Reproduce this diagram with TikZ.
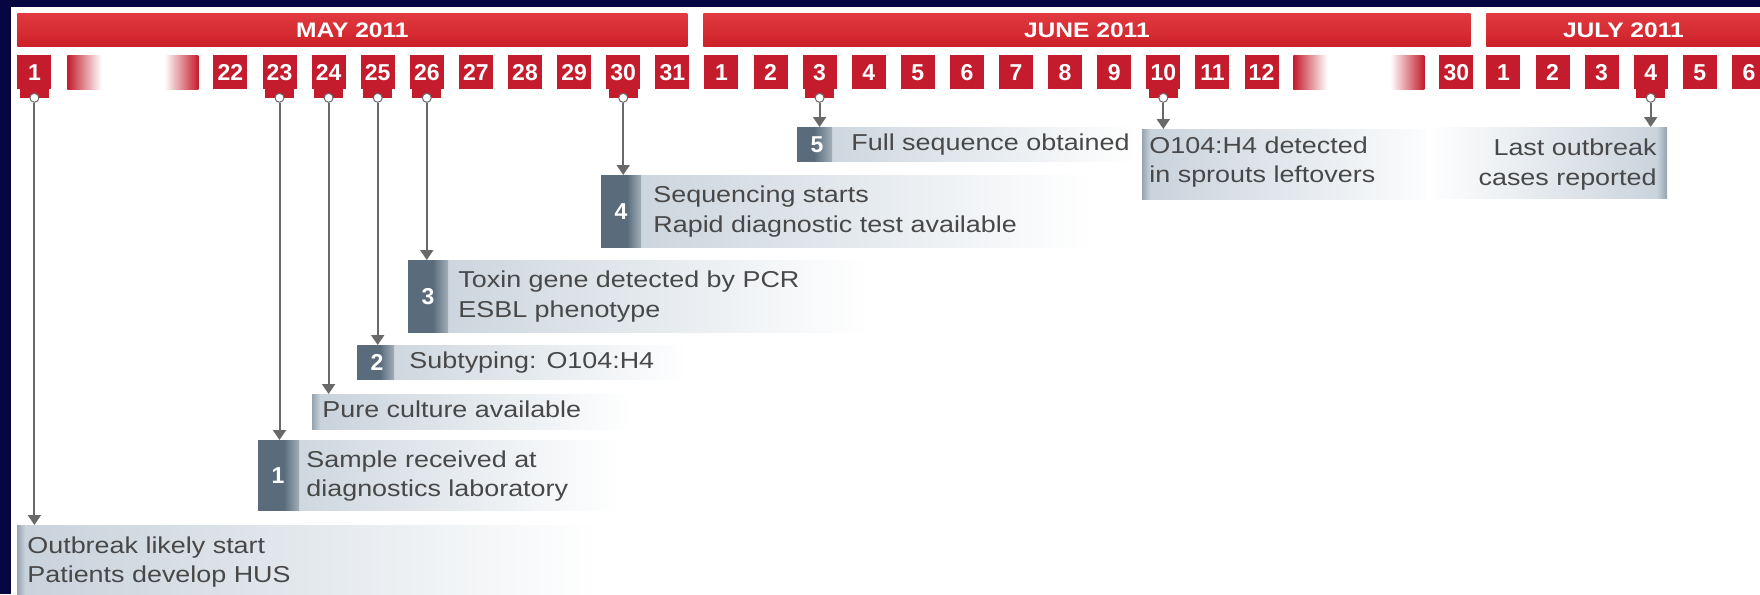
\documentclass[tikz,border=0pt]{standalone}
\usepackage{fontspec}
\setmainfont{Liberation Sans}
\newfontfamily\wideface[FakeStretch=1.17]{Liberation Sans}
\usetikzlibrary{calc,arrows.meta}
\definecolor{navy}{RGB}{6,6,66}
\definecolor{monthtop}{RGB}{226,58,64}
\definecolor{monthbot}{RGB}{204,32,40}
\definecolor{dayred}{RGB}{196,28,44}
\definecolor{slate}{RGB}{90,108,124}
\definecolor{boxgray}{RGB}{200,210,219}
\definecolor{txtgray}{RGB}{72,72,72}
\definecolor{linegray}{RGB}{105,105,105}
\newcommand\dayfnt{\fontsize{11.5}{13}\selectfont\bfseries}
\newcommand\monfnt{\wideface\fontsize{10.5}{13}\selectfont\bfseries}
\newcommand\txtfnt{\wideface\fontsize{11.5}{14}\selectfont}
\newcommand\numfnt{\fontsize{11.5}{14}\selectfont\bfseries}
\begin{document}
\begin{tikzpicture}[x=0.5pt,y=-0.5pt,
  monthbar/.style={anchor=north west, inner sep=0pt, minimum height=16.5pt, top color=monthtop, bottom color=monthbot, text=white, font=\monfnt},
  daybox/.style={anchor=north west, inner sep=0pt, minimum width=17pt, minimum height=17pt, fill=dayred, text=white, font=\dayfnt},
  fadebox/.style={anchor=north west, inner sep=0pt, minimum width=17pt, minimum height=17pt},
  circ/.style={circle, fill=white, draw=linegray, line width=0.5pt, minimum size=4.5pt, inner sep=0pt},
  cbox/.style={anchor=north west, inner sep=0pt, left color=boxgray, right color=white},
  txt/.style={text=txtgray, font=\txtfnt, inner sep=0pt, text height=8.5pt, text depth=2.3pt},
  num/.style={text=white, font=\numfnt, inner sep=0pt},
  conn/.style={draw=linegray, line width=1pt, -{Triangle[width=6.5pt,length=5pt]}}
]
\useasboundingbox (0,0) rectangle (1760,594);
\clip (0,0) rectangle (1760,594);
\fill[navy] (0,0) rectangle (1760,594);
\fill[white] (11,7) rectangle (1760,594);

% month bars
\node[monthbar, minimum width=335pt] (may) at (17,13) {MAY 2011};
\node[monthbar, minimum width=383.5pt] (june) at (703,13) {JUNE 2011};
\node[monthbar, minimum width=137pt] (july) at (1486,13) {JULY 2011};

% day boxes
\node[daybox] (m1) at (17,55) {1};
\node[fadebox, left color=dayred, right color=white] (mg1) at (67,55) {};
\node[fadebox, left color=white, right color=dayred] (mg2) at (164,55) {};
\foreach \d [count=\i from 0] in {22,...,31}
  \node[daybox] (m\d) at ({213+49.1*\i},55) {\d};
\foreach \d [count=\i from 0] in {1,...,12}
  \node[daybox] (j\d) at ({704+49.1*\i},55) {\d};
\node[fadebox, left color=dayred, right color=white] (jg1) at (1293,55) {};
\node[fadebox, left color=white, right color=dayred] (jg2) at (1390,55) {};
\node[daybox] (j30) at (1439,55) {30};
\foreach \d [count=\i from 0] in {1,...,6}
  \node[daybox] (l\d) at ({1486+49.1*\i},55) {\d};

% tabs and circles
\foreach \n in {m1,m23,m24,m25,m26,m30,j3,j10,l4}{
  \fill[dayred] ($(\n.south west)+(3,-1)$) rectangle ($(\n.south east)+(-3,8)$);
  \node[circ] (\n-c) at ($(\n.south)+(0,8)$) {};
}

% callout boxes
% 0: outbreak start
\node[cbox, minimum width=290pt, minimum height=34.5pt] (c0) at (17,525) {};
\fill[left color=slate!45!boxgray, right color=boxgray] (c0.north west) rectangle ($(c0.south west)+(8,0)$);
\node[txt, anchor=west] (t0a) at (27,547) {Outbreak likely start};
\node[txt, anchor=west] (t0b) at (27,576) {Patients develop HUS};

% 1: sample received
\node[cbox, minimum width=180pt, minimum height=35pt] (c1) at (258,440) {};
\fill[slate] (c1.north west) rectangle ($(c1.south west)+(26,0)$);
\fill[left color=slate, right color=slate!35!boxgray] ($(c1.north west)+(26,0)$) rectangle ($(c1.south west)+(41,0)$);
\node[num] (n1) at ($(c1.west)+(20,0)$) {1};
\node[txt, anchor=west] (t1a) at (306,461) {Sample received at};
\node[txt, anchor=west] (t1b) at (306,490) {diagnostics laboratory};

% pure culture
\node[cbox, minimum width=160pt, minimum height=17.5pt] (cp) at (312,394) {};
\fill[left color=slate!45!boxgray, right color=boxgray] (cp.north west) rectangle ($(cp.south west)+(8,0)$);
\node[txt, anchor=west] (tp) at (322,411) {Pure culture available};

% 2: subtyping
\node[cbox, minimum width=165pt, minimum height=17pt] (c2) at (357,345) {};
\fill[slate] (c2.north west) rectangle ($(c2.south west)+(23,0)$);
\fill[left color=slate, right color=slate!35!boxgray] ($(c2.north west)+(23,0)$) rectangle ($(c2.south west)+(37,0)$);
\node[num] (n2) at ($(c2.west)+(20,0)$) {2};
\node[txt, anchor=west] (t2) at (409,362) {Subtyping: O104:H4};

% 3: toxin gene
\node[cbox, minimum width=230pt, minimum height=36pt] (c3) at (408,260) {};
\fill[slate] (c3.north west) rectangle ($(c3.south west)+(25,0)$);
\fill[left color=slate, right color=slate!35!boxgray] ($(c3.north west)+(25,0)$) rectangle ($(c3.south west)+(40,0)$);
\node[num] (n3) at ($(c3.west)+(20,0)$) {3};
\node[txt, anchor=west] (t3a) at (458,281) {Toxin gene detected by PCR};
\node[txt, anchor=west] (t3b) at (458,311) {ESBL phenotype};

% 4: sequencing
\node[cbox, minimum width=245pt, minimum height=36pt] (c4) at (601,175) {};
\fill[slate] (c4.north west) rectangle ($(c4.south west)+(26,0)$);
\fill[left color=slate, right color=slate!35!boxgray] ($(c4.north west)+(26,0)$) rectangle ($(c4.south west)+(40,0)$);
\node[num] (n4) at ($(c4.west)+(20,0)$) {4};
\node[txt, anchor=west] (t4a) at (653,196) {Sequencing starts};
\node[txt, anchor=west] (t4b) at (653,226) {Rapid diagnostic test available};

% 5: full sequence
\node[cbox, minimum width=170pt, minimum height=17pt] (c5) at (797,127) {};
\fill[slate] (c5.north west) rectangle ($(c5.south west)+(17,0)$);
\fill[left color=slate, right color=slate!35!boxgray] ($(c5.north west)+(17,0)$) rectangle ($(c5.south west)+(35,0)$);
\node[num] (n5) at ($(c5.west)+(20,0)$) {5};
\node[txt, anchor=west] (t5) at (851,144) {Full sequence obtained};

% sprouts
\node[cbox, minimum width=150pt, minimum height=35pt] (cs) at (1142,129) {};
\fill[left color=slate!45!boxgray, right color=boxgray] (cs.north west) rectangle ($(cs.south west)+(8,0)$);
\node[txt, anchor=west] (tsa) at (1149,147) {O104:H4 detected};
\node[txt, anchor=west] (tsb) at (1149,176) {in sprouts leftovers};

% last cases
\node[anchor=north east, inner sep=0pt, left color=white, right color=boxgray, minimum width=120pt, minimum height=35.5pt] (cl) at (1667,127) {};
\fill[left color=boxgray, right color=slate!45!boxgray] ($(cl.north east)+(-10,0)$) rectangle (cl.south east);
\node[txt, anchor=east] (tla) at (1657,149) {Last outbreak};
\node[txt, anchor=east] (tlb) at (1657,179) {cases reported};

% connectors
\draw[conn] (m1-c.south) -- (m1-c.south |- c0.north);
\draw[conn] (m23-c.south) -- (m23-c.south |- c1.north);
\draw[conn] (m24-c.south) -- (m24-c.south |- cp.north);
\draw[conn] (m25-c.south) -- (m25-c.south |- c2.north);
\draw[conn] (m26-c.south) -- (m26-c.south |- c3.north);
\draw[conn] (m30-c.south) -- (m30-c.south |- c4.north);
\draw[conn] (j3-c.south) -- (j3-c.south |- c5.north);
\draw[conn] (j10-c.south) -- (j10-c.south |- cs.north);
\draw[conn] (l4-c.south) -- (l4-c.south |- cl.north);
\end{tikzpicture}
\end{document}
